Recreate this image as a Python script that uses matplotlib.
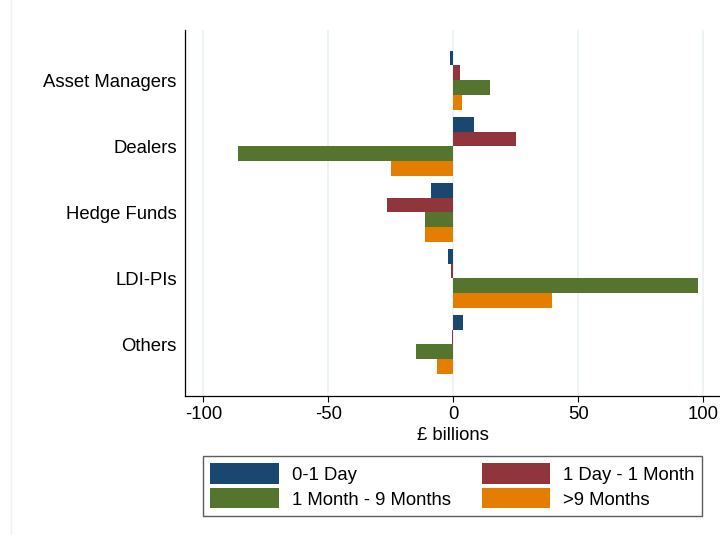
import numpy as np
import matplotlib.pyplot as plt
from matplotlib.lines import Line2D

plt.rcParams['font.family'] = ['Liberation Sans', 'DejaVu Sans']
plt.rcParams['axes.unicode_minus'] = False

#Categories and net positions by maturity bucket.
sectors = ['Asset Managers', 'Dealers', 'Hedge Funds', 'LDI-PIs', 'Others']
day = [-1.2, 8.5, -8.8, -2.0, 4.0]
month = [2.8, 25.2, -26.4, -0.8, -0.5]
months9 = [14.8, -86.0, -11.4, 98.0, -14.8]
over9 = [3.6, -24.8, -11.3, 39.6, -6.4]
series = [day, month, months9, over9]
names = ['0-1 Day', '1 Day - 1 Month', '1 Month - 9 Months', '>9 Months']
colors = ['#1a476f', '#90353b', '#55752f', '#e37e00']

fig = plt.figure(figsize=(7.2, 5.35), dpi=100)
ax = fig.add_axes([185/720, 1-396/535, 1-185/720, (396-30)/535])

y = np.arange(len(sectors))
h = 0.223
bars = []
for i in range(len(series)):
    bars.append(ax.barh(y + (i-1.5)*h, series[i], height=h, color=colors[i],
                        label=names[i], zorder=3))

ax.set_xlim(-107.4, 106.8)
ax.set_ylim(4.78, -0.76)
ax.set_xticks([-100, -50, 0, 50, 100])
ax.set_yticks(y)
ax.set_yticklabels(sectors)
ax.xaxis.grid(True, color='#eaf2f3', lw=1.2, zorder=0)
ax.tick_params(axis='y', length=0, pad=6, labelsize=13.3)
ax.tick_params(axis='x', length=4, width=0.8, pad=3, labelsize=13.3)
ax.set_xlabel('£ billions', fontsize=13.3, labelpad=3)
for sp in ['top', 'right']:
    ax.spines[sp].set_visible(False)
for sp in ['left', 'bottom']:
    ax.spines[sp].set_linewidth(0.9)

fig.add_artist(Line2D([11/720, 11/720], [0, 1], color='#eaf2f3', lw=1))

#Row-wise legend order.
order = [0, 2, 1, 3]
leg = fig.legend([bars[i] for i in order], [names[i] for i in order],
                 loc='upper center', bbox_to_anchor=(452.5/720, 1-456/535),
                 borderaxespad=0, ncol=2, fontsize=13.3, frameon=True,
                 fancybox=False, handlelength=3.7, handleheight=1.3,
                 columnspacing=1.7, handletextpad=0.7, labelspacing=0.25,
                 borderpad=0.4)
leg.get_frame().set_edgecolor('#333333')
leg.get_frame().set_linewidth(1.0)

plt.savefig('out.png', dpi=100)
